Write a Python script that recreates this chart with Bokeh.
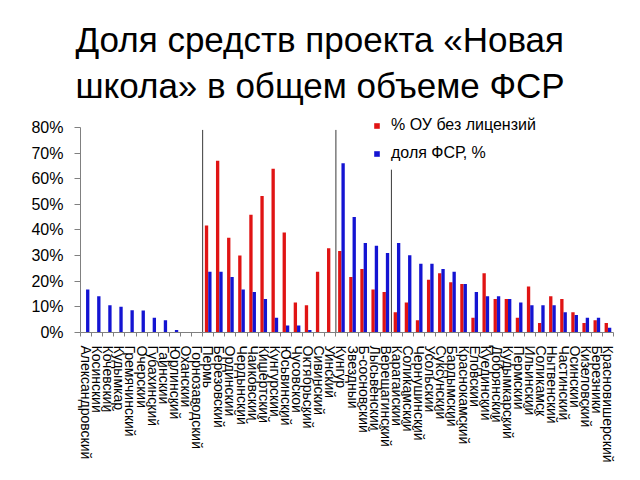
import numpy as np
from bokeh.plotting import figure
from bokeh.models import (ColumnDataSource, Range1d, FixedTicker, PrintfTickFormatter,
                          Legend, LegendItem, Title)
from bokeh.embed import file_html
from bokeh.resources import INLINE

title_text = "Доля средств проекта «Новая\nшкола» в общем объеме ФСР"

districts = ["Александровский", "Косинский", "Кочевский", "Кудымкар", "Гремячинский",
             "Очерский", "Губахинский", "Гайнский", "Юрлинский", "Оханский",
             "Горнозаводский", "Пермь", "Березовский", "Ординский", "Чердынский",
             "Чайковский", "Кишертский", "Кунгурский", "Юсьвинский", "Чусовской",
             "Октябрьский", "Сивинский", "Уинский", "Кунгур", "Звездный",
             "Б-сосновский", "Лысьвенский", "Верещагинский", "Карагайский", "Соликамский",
             "Чернушинский", "Усольский", "Суксунский", "Бардымский", "Краснокамский",
             "Еловский", "Куединский", "Добрянский", "Кудымкарский", "Пермский",
             "Ильинский", "Соликамск", "Нытвенский", "Частинский", "Осинский",
             "Кизеловский", "Березники", "Красновишерский"]

unlicensed = [0, 0, 0, 0, 0, 0, 0, 0, 0, 0, 0,
              41.7, 67.0, 37.0, 30.0, 45.9, 53.2, 63.9, 39.0, 11.7, 10.6, 23.7, 32.9,
              31.8, 21.6, 24.8, 16.8, 15.8, 7.9, 11.7, 4.8, 20.6, 23.1, 19.6, 18.9,
              5.8, 23.1, 13.1, 13.1, 5.8, 17.9, 3.7, 14.1, 13.1, 7.9, 3.7, 4.8, 3.7]

fsr_share = [16.8, 14.1, 10.6, 10.0, 8.7, 8.6, 5.8, 4.8, 1.0, 0, 0,
             23.7, 23.7, 21.6, 16.8, 15.8, 13.1, 5.8, 2.7, 2.7, 1.0, 0, 0,
             66.0, 45.0, 34.9, 33.8, 31.0, 34.9, 30.1, 26.8, 26.8, 24.8, 23.7, 18.9,
             15.8, 14.1, 14.1, 13.1, 11.7, 10.6, 10.6, 10.6, 7.9, 6.8, 5.8, 5.8, 1.9]

y_ticks = [0, 10, 20, 30, 40, 50, 60, 70, 80]

separator_after = ["Горнозаводский", "Уинский", "Верещагинский"]
separator_top = [79, 79, 63.5]

series_names = ["% ОУ без лицензий", "доля ФСР, %"]
series_colors = ["#E01414", "#1414D2"]

n = len(districts)
idx = np.arange(n)
src = ColumnDataSource(dict(
    xr=idx + 0.35, xb=idx + 0.65,
    red=unlicensed, blue=fsr_share))

p = figure(width=640, height=480, output_backend="svg", toolbar_location=None,
           x_range=Range1d(0, n), y_range=Range1d(0, 85.8),
           min_border_left=80, min_border_right=27, min_border_top=112,
           min_border_bottom=148)
p.outline_line_color = None
p.xgrid.visible = False
p.ygrid.visible = False
p.background_fill_color = "white"
p.border_fill_color = "white"

r1 = p.vbar(x="xr", top="red", width=0.3, source=src, fill_color=series_colors[0],
            line_color=None)
r2 = p.vbar(x="xb", top="blue", width=0.3, source=src, fill_color=series_colors[1],
            line_color=None)

sep_x = [districts.index(d) + 1 for d in separator_after]
p.segment(x0=sep_x, y0=[0] * len(sep_x), x1=sep_x, y1=separator_top,
          line_color="#3a3a3a", line_width=1)

# axes
xa = p.xaxis[0]
xa.ticker = FixedTicker(ticks=list(idx + 0.5), minor_ticks=list(range(n + 1)))
xa.major_label_overrides = {float(i + 0.5): d for i, d in enumerate(districts)}
xa.major_label_orientation = "vertical"
xa.major_label_text_font = "Liberation Sans"
xa.major_label_text_font_size = "14px"
xa.major_label_text_color = "black"
xa.major_tick_line_color = None
xa.major_tick_out = 0
xa.major_tick_in = 0
xa.minor_tick_out = 4
xa.minor_tick_in = 0
xa.minor_tick_line_color = "#808080"
xa.axis_line_color = "#808080"
xa.major_label_standoff = 9

ya = p.yaxis[0]
ya.bounds = (0, 80)
ya.ticker = FixedTicker(ticks=y_ticks)
ya.formatter = PrintfTickFormatter(format="%d%%")
ya.major_label_text_font = "Liberation Sans"
ya.major_label_text_font_size = "16px"
ya.major_label_text_color = "black"
ya.major_tick_out = 6
ya.major_tick_in = 0
ya.minor_tick_line_color = None
ya.major_tick_line_color = "#808080"
ya.axis_line_color = "#808080"
ya.major_label_standoff = 11

legend = Legend(items=[LegendItem(label=series_names[0], renderers=[r1]),
                       LegendItem(label=series_names[1], renderers=[r2])],
                location=(293, 169), orientation="vertical",
                glyph_width=7, glyph_height=7, label_standoff=11,
                label_height=20, spacing=8, padding=0, margin=0,
                border_line_color=None, background_fill_alpha=0,
                label_text_font="Liberation Sans", label_text_font_size="16px",
                label_text_color="black")
p.add_layout(legend, "center")

p.title = Title(text=title_text, align="left", offset=-5, vertical_align="bottom",
                text_font="Liberation Sans", text_font_size="35px",
                text_line_height=1.2,
                text_font_style="normal", text_color="black", standoff=14)

open("out.html", "w").write(file_html(p, INLINE))
